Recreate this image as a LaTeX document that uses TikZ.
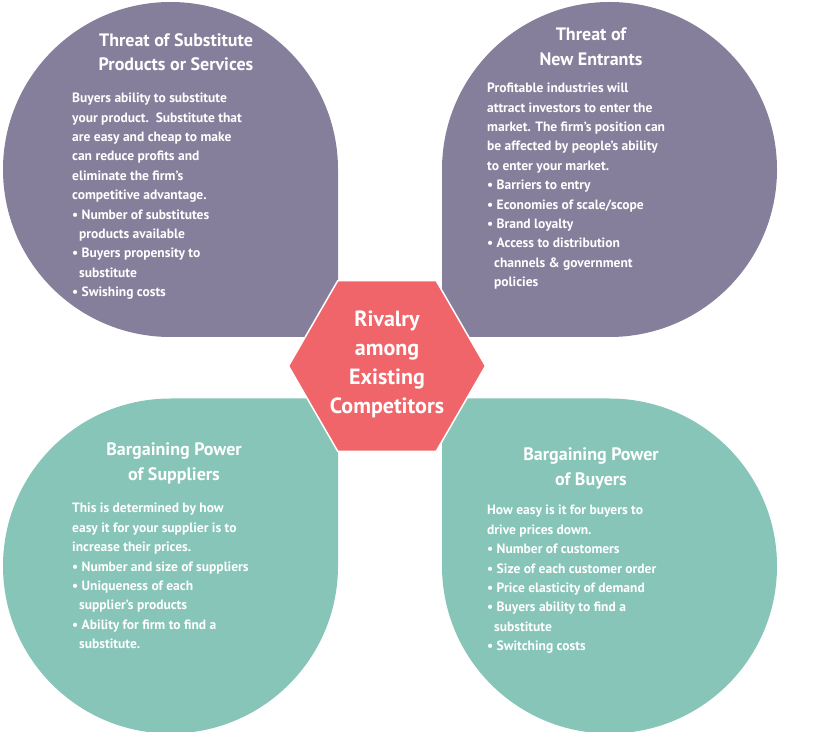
\documentclass[tikz,border=0pt]{standalone}
\usepackage{fontspec}
\setmainfont{PT Sans}
\usetikzlibrary{shapes.geometric}
\definecolor{purp}{HTML}{857F9B}
\definecolor{teal}{HTML}{86C5B8}
\definecolor{hexred}{HTML}{EF6569}
\begin{document}
\begin{tikzpicture}[x=1pt,y=1pt,
  body/.style={anchor=north west,inner sep=0pt,align=left,text=white,font=\fontsize{13.5}{19.4}\selectfont\bfseries},
  ttl/.style={anchor=north,inner sep=0pt,align=center,text=white,font=\fontsize{18}{24.5}\selectfont\bfseries}]
\useasboundingbox (0,0) rectangle (818,731);
\fill[purp] (338,394) -- (170.5,394) arc[start angle=-90,end angle=-270,radius=167.5] arc[start angle=90,end angle=0,radius=167.5] -- cycle;
\fill[purp] (442,394) -- (442,561.5) arc[start angle=180,end angle=90,radius=167.5] arc[start angle=90,end angle=-90,radius=167.5] -- cycle;
\fill[teal] (338,332.5) -- (338,165) arc[start angle=0,end angle=-180,radius=167.5] arc[start angle=180,end angle=90,radius=167.5] -- cycle;
\fill[teal] (442,332.5) -- (442,165) arc[start angle=180,end angle=360,radius=167.5] arc[start angle=0,end angle=90,radius=167.5] -- cycle;
\node[regular polygon,regular polygon sides=6,minimum size=197pt,fill=hexred,draw=white,line width=1.5pt,inner sep=0pt] (hex) at (387,365) {};
\node[align=center,text=white,inner sep=0pt,font=\fontsize{22}{29}\selectfont\bfseries] (hext) at (387,367) {Rivalry\\among\\Existing\\Competitors};
\node[ttl] (t1) at (176,731-33) {Threat of Substitute\\Products or Services};
\node[body] (b1) at (72,731-93) {Buyers ability to substitute\\your product.\ \ Substitute that\\are easy and cheap to make\\can reduce profits and\\eliminate the firm’s\\competitive advantage.\\• Number of substitutes\\\hspace*{7pt}products available\\• Buyers propensity to\\\hspace*{7pt}substitute\\• Swishing costs};
\node[ttl] (t2) at (591,731-28) {Threat of\\New Entrants};
\node[body] (b2) at (487,731-83) {Profitable industries will\\attract investors to enter the\\market. The firm’s position can\\be affected by people’s ability\\to enter your market.\\• Barriers to entry\\• Economies of scale/scope\\• Brand loyalty\\• Access to distribution\\\hspace*{7pt}channels \& government\\\hspace*{7pt}policies};
\node[ttl] (t3) at (174,731-443) {Bargaining Power\\of Suppliers};
\node[body] (b3) at (72,731-503) {This is determined by how\\easy it for your supplier is to\\increase their prices.\\• Number and size of suppliers\\• Uniqueness of each\\\hspace*{7pt}supplier’s products\\• Ability for firm to find a\\\hspace*{7pt}substitute.};
\node[ttl] (t4) at (591,731-448) {Bargaining Power\\of Buyers};
\node[body] (b4) at (487,731-505) {How easy is it for buyers to\\drive prices down.\\• Number of customers\\• Size of each customer order\\• Price elasticity of demand\\• Buyers ability to find a\\\hspace*{7pt}substitute\\• Switching costs};
\end{tikzpicture}
\end{document}
